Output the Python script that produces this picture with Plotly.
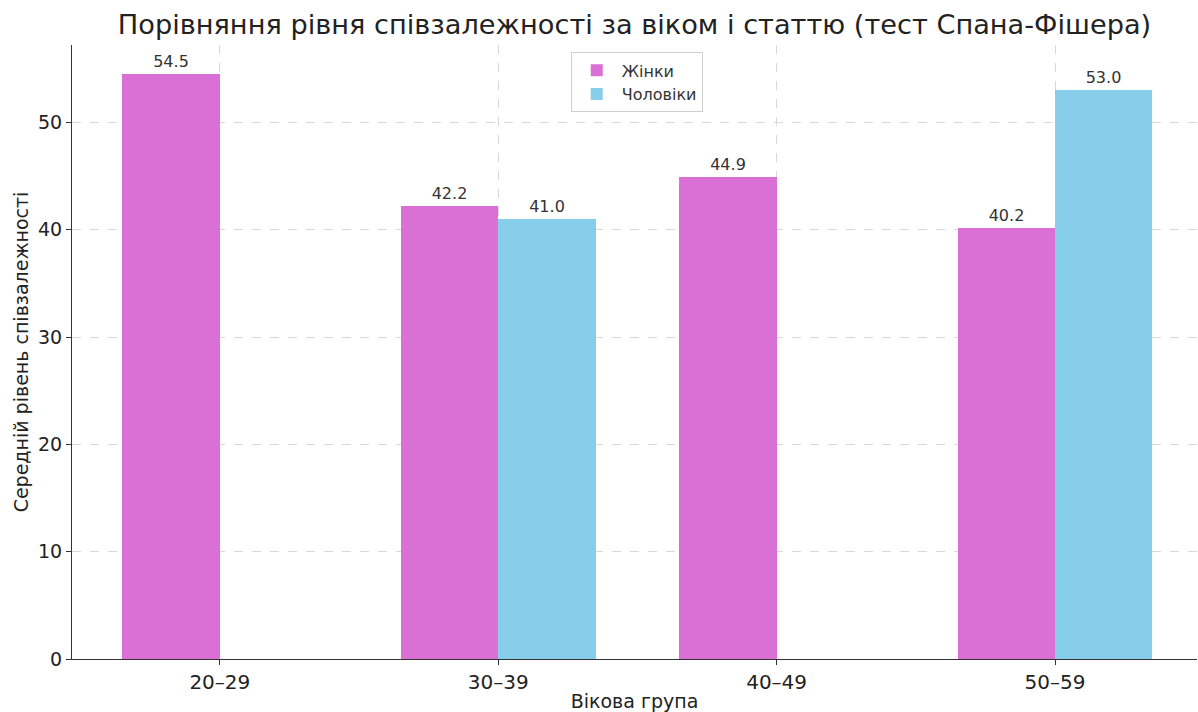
import plotly.graph_objects as go

categories = ["20–29", "30–39", "40–49", "50–59"]
women = [54.5, 42.2, 44.9, 40.2]
men = [None, 41.0, None, 53.0]
yticks = [0, 10, 20, 30, 40, 50]

width = 0.35
idx = list(range(len(categories)))

fig = go.Figure()
fig.add_trace(go.Bar(
    x=[i - width / 2 for i in idx], y=women, width=width, name="Жінки",
    marker=dict(color="#DA70D6", line=dict(width=0)),
    texttemplate="%{y:.1f}", textposition="outside",
    textfont=dict(size=16, color="#333333"), cliponaxis=False,
))
fig.add_trace(go.Bar(
    x=[i + width / 2 for i in idx], y=men, width=width, name="Чоловіки",
    marker=dict(color="#87CEEB", line=dict(width=0)),
    texttemplate="%{y:.1f}", textposition="outside",
    textfont=dict(size=16, color="#333333"), cliponaxis=False,
))

font = "DejaVu Sans, sans-serif"
fig.update_layout(
    width=1198, height=712,
    margin=dict(l=72, r=1, t=45, b=53),
    paper_bgcolor="white", plot_bgcolor="white",
    font=dict(family=font, color="#222222"),
    title=dict(text="Порівняння рівня співзалежності за віком і статтю (тест Спана-Фішера)",
               x=0.5, xref="paper", xanchor="center", y=0.965, yanchor="middle",
               font=dict(size=27.2, color="#222222")),
    barmode="overlay",
    showlegend=True,
    legend=dict(x=0.502, y=0.988, xanchor="center", yanchor="top",
                bordercolor="#d0d0d0", borderwidth=1, bgcolor="rgba(255,255,255,0.8)",
                font=dict(size=16, color="#333333"), itemwidth=40,
                tracegroupgap=2),
    bargap=0,
)
fig.update_xaxes(
    range=[-0.531, 3.51], tickmode="array", tickvals=idx, ticktext=categories,
    showgrid=True, gridcolor="#d8d8d8", griddash="dash", gridwidth=1,
    showline=True, linecolor="#333333", linewidth=1.2,
    ticks="outside", ticklen=5, tickcolor="#333333",
    tickfont=dict(size=20), zeroline=False,
    title=dict(text="Вікова група", font=dict(size=19), standoff=4),
)
fig.update_yaxes(
    range=[0, 57.225], tickmode="array", tickvals=yticks,
    showgrid=True, gridcolor="#d8d8d8", griddash="dash", gridwidth=1,
    showline=True, linecolor="#333333", linewidth=1.2,
    ticks="outside", ticklen=5, tickcolor="#333333",
    tickfont=dict(size=19), zeroline=False,
    title=dict(text="Середній рівень співзалежності", font=dict(size=19), standoff=4),
)

fig.write_html("out.html", config={"displayModeBar": False},
               post_script="document.body.style.margin='0';document.body.style.overflow='hidden';")
